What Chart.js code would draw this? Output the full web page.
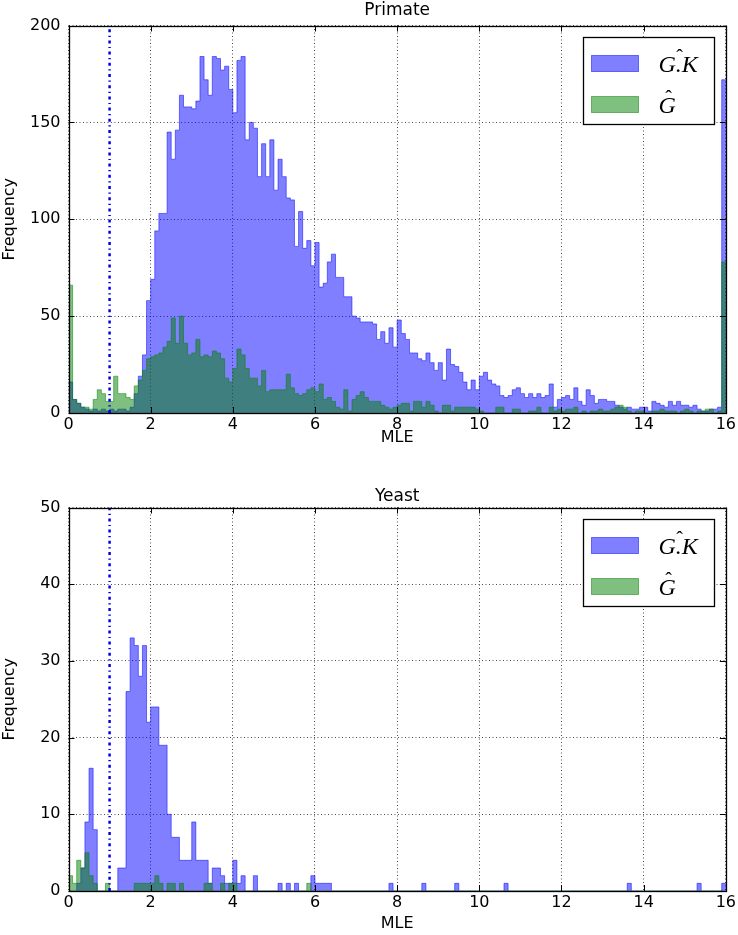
<!DOCTYPE html>
<html>
<head>
<meta charset="utf-8">
<title>MLE histograms</title>
<script src="https://cdn.jsdelivr.net/npm/chart.js@4.4.0/dist/chart.umd.min.js"></script>
<style>
  body { margin: 0; background: #fff; }
  canvas { display: block; }
</style>
</head>
<body>
<canvas id="primateChart" width="738" height="467"></canvas>
<canvas id="yeastChart" width="738" height="468"></canvas>
<script>
// histogram bins start at 0 and are 0.1 wide, 160 bins up to 16
const binWidth = 0.1;
const xTicks = [0, 2, 4, 6, 8, 10, 12, 14, 16];
const primateYTicks = [0, 50, 100, 150, 200];
const yeastYTicks = [0, 10, 20, 30, 40, 50];
const thresholdX = 1;

// Primate, G.K hat (blue)
const primateGK = [
    16, 7, 5, 3, 2, 1, 2, 1, 2, 1,
    2, 1, 2, 2, 1, 3, 10, 19, 30, 58,
    69, 94, 103, 103, 145, 131, 146, 164, 158, 158,
    157, 161, 184, 172, 164, 184, 183, 177, 179, 167,
    155, 182, 184, 141, 150, 147, 122, 139, 122, 141,
    115, 131, 122, 111, 110, 86, 104, 85, 89, 76,
    88, 65, 67, 78, 82, 70, 70, 60, 60, 50,
    49, 47, 47, 47, 46, 38, 42, 36, 44, 34,
    48, 41, 38, 31, 31, 28, 27, 31, 26, 22,
    26, 17, 33, 25, 24, 21, 16, 12, 17, 12,
    19, 21, 17, 15, 14, 9, 8, 9, 12, 13,
    10, 8, 10, 8, 10, 8, 9, 15, 3, 7,
    8, 9, 7, 13, 6, 4, 12, 9, 5, 7,
    7, 6, 6, 4, 3, 2, 3, 2, 2, 3,
    3, 1, 6, 5, 4, 3, 6, 4, 6, 4,
    4, 3, 4, 2, 1, 1, 2, 2, 3, 172
];

// Primate, G hat (green)
const primateG = [
    66, 7, 5, 3, 3, 2, 7, 12, 10, 6,
    6, 19, 10, 10, 8, 7, 14, 17, 22, 28,
    29, 30, 31, 34, 37, 49, 36, 50, 36, 30,
    31, 38, 29, 30, 29, 32, 31, 28, 18, 16,
    23, 33, 30, 23, 18, 18, 14, 22, 11, 12,
    12, 12, 12, 20, 13, 10, 9, 10, 12, 13,
    11, 15, 7, 8, 6, 3, 2, 12, 1, 7,
    9, 11, 8, 6, 6, 6, 4, 3, 2, 3,
    4, 5, 5, 1, 6, 6, 3, 6, 4, 1,
    0, 4, 4, 1, 3, 3, 3, 3, 3, 2,
    1, 0, 0, 0, 3, 3, 0, 0, 2, 2,
    0, 0, 1, 1, 3, 0, 0, 3, 1, 2,
    1, 2, 2, 3, 0, 1, 0, 1, 1, 2,
    1, 1, 2, 3, 4, 3, 1, 0, 1, 1,
    0, 0, 1, 1, 2, 1, 1, 1, 0, 1,
    2, 1, 0, 1, 1, 2, 2, 0, 1, 78
];

// Yeast, G.K hat (blue)
const yeastGK = [
    0, 0, 1, 3, 9, 16, 8, 0, 0, 0,
    0, 0, 3, 3, 26, 33, 32, 28, 32, 22,
    24, 24, 19, 19, 10, 7, 7, 4, 4, 4,
    9, 4, 4, 4, 1, 3, 3, 2, 1, 1,
    4, 1, 2, 0, 0, 2, 0, 0, 0, 0,
    0, 1, 0, 1, 0, 1, 0, 0, 0, 2,
    1, 1, 1, 1, 0, 0, 0, 0, 0, 0,
    0, 0, 0, 0, 0, 0, 0, 0, 1, 0,
    0, 0, 0, 0, 0, 0, 1, 0, 0, 0,
    0, 0, 0, 0, 1, 0, 0, 0, 0, 0,
    0, 0, 0, 0, 0, 0, 1, 0, 0, 0,
    0, 0, 0, 0, 0, 0, 0, 0, 0, 0,
    0, 0, 0, 0, 0, 0, 0, 0, 0, 0,
    0, 0, 0, 0, 0, 0, 1, 0, 0, 0,
    0, 0, 0, 0, 0, 0, 0, 0, 0, 0,
    0, 0, 0, 1, 0, 0, 0, 0, 0, 1
];

// Yeast, G hat (green)
const yeastG = [
    2, 1, 4, 3, 5, 2, 1, 0, 0, 1,
    0, 0, 0, 0, 0, 0, 1, 1, 1, 1,
    1, 2, 1, 0, 1, 1, 0, 1, 0, 0,
    0, 0, 0, 1, 1, 0, 0, 1, 0, 1,
    1, 0, 0, 0, 0, 0, 0, 0, 0, 0,
    0, 0, 0, 0, 0, 0, 0, 0, 1, 0,
    0, 0, 0, 0, 0, 0, 0, 0, 0, 0,
    0, 0, 0, 0, 0, 0, 0, 0, 0, 0,
    0, 0, 0, 0, 0, 0, 0, 0, 0, 0,
    0, 0, 0, 0, 0, 0, 0, 0, 0, 0,
    0, 0, 0, 0, 0, 0, 0, 0, 0, 0,
    0, 0, 0, 0, 0, 0, 0, 0, 0, 0,
    0, 0, 0, 0, 0, 0, 0, 0, 0, 0,
    0, 0, 0, 0, 0, 0, 0, 0, 0, 0,
    0, 0, 0, 0, 0, 0, 0, 0, 0, 0,
    0, 0, 0, 0, 0, 0, 0, 0, 0, 0
];

const blueFill = 'rgba(0, 0, 255, 0.5)';
const greenFill = 'rgba(0, 128, 0, 0.5)';
const tickFont = { family: 'DejaVu Sans', size: 16 };
const labelFont = { family: 'DejaVu Sans', size: 16 };

// left edge of every bin, plus a closing point at the last edge
function histPoints(counts) {
    const pts = counts.map((c, i) => ({ x: Math.round(i * binWidth * 10) / 10, y: c }));
    pts.push({ x: Math.round(counts.length * binWidth * 10) / 10, y: 0 });
    return pts;
}

// title centred over the axes, not over the canvas
const axesTitle = {
    id: 'axesTitle',
    afterDraw(chart, args, opts) {
        const { ctx, chartArea: a } = chart;
        ctx.save();
        ctx.fillStyle = '#000';
        ctx.font = '17px "DejaVu Sans"';
        ctx.textAlign = 'center';
        ctx.textBaseline = 'middle';
        ctx.fillText(opts.text, (a.left + a.right) / 2, opts.y);
        ctx.restore();
    }
};

// black frame and inward tick marks, like matplotlib classic
const axesFrame = {
    id: 'axesFrame',
    afterDraw(chart) {
        const { ctx, chartArea: a, scales } = chart;
        ctx.save();
        ctx.strokeStyle = '#000';
        ctx.lineWidth = 1;
        ctx.beginPath();
        scales.x.ticks.forEach(t => {
            const px = Math.round(scales.x.getPixelForValue(t.value)) + 0.5;
            ctx.moveTo(px, a.bottom); ctx.lineTo(px, a.bottom - 6);
            ctx.moveTo(px, a.top); ctx.lineTo(px, a.top + 6);
        });
        scales.y.ticks.forEach(t => {
            const py = Math.round(scales.y.getPixelForValue(t.value)) + 0.5;
            ctx.moveTo(a.left, py); ctx.lineTo(a.left + 6, py);
            ctx.moveTo(a.right, py); ctx.lineTo(a.right - 6, py);
        });
        ctx.stroke();
        ctx.lineWidth = 1.3;
        ctx.strokeRect(Math.round(a.left) + 0.5, Math.round(a.top) + 0.5,
            Math.round(a.right) - Math.round(a.left), Math.round(a.bottom) - Math.round(a.top));
        ctx.restore();
    }
};

// legend box in the upper right corner with hatted labels
const boxLegend = {
    id: 'boxLegend',
    afterDraw(chart) {
        const { ctx, chartArea: a } = chart;
        const w = 131, h = 87;
        const left = Math.round(a.right - 12 - w) + 0.5;
        const top = Math.round(a.top + 11) + 0.5;
        ctx.save();
        ctx.fillStyle = '#fff';
        ctx.fillRect(left, top, w, h);
        ctx.strokeStyle = '#000';
        ctx.lineWidth = 1.3;
        ctx.strokeRect(left, top, w, h);
        ctx.lineWidth = 1;
        chart.data.datasets.filter(d => d.legendText).forEach((d, i) => {
            const y = top + 18 + i * 41;
            ctx.fillStyle = d.backgroundColor;
            ctx.fillRect(left + 8, y, 47, 16);
            ctx.strokeStyle = d.borderColor;
            ctx.strokeRect(left + 8, y, 47, 16);

            ctx.fillStyle = '#000';
            ctx.textAlign = 'left';
            ctx.textBaseline = 'alphabetic';
            ctx.font = 'italic 24px "Liberation Serif"';
            ctx.fillText(d.legendText, left + 75, y + 16);
            const tw = ctx.measureText(d.legendText).width;
            ctx.font = '20px "Liberation Serif"';
            ctx.textAlign = 'center';
            ctx.fillText('\u02C6', left + 75 + tw / 2 + 1.5, y + 8);
        });
        ctx.restore();
    }
};

function makeChart(canvasId, cfg) {
    const ctx = document.getElementById(canvasId).getContext('2d');
    return new Chart(ctx, {
        type: 'line',
        data: {
            datasets: [
                {
                    label: 'G.K hat', legendText: 'G.K',
                    data: histPoints(cfg.gk),
                    stepped: 'before', fill: 'origin',
                    backgroundColor: blueFill, borderColor: blueFill,
                    borderWidth: 1, pointRadius: 0, order: 3
                },
                {
                    label: 'G hat', legendText: 'G',
                    data: histPoints(cfg.g),
                    stepped: 'before', fill: 'origin',
                    backgroundColor: greenFill, borderColor: greenFill,
                    borderWidth: 1, pointRadius: 0, order: 2
                },
                {
                    label: 'threshold',
                    data: [{ x: thresholdX, y: 0 }, { x: thresholdX, y: cfg.yTicks[cfg.yTicks.length - 1] }],
                    borderColor: 'rgb(0, 0, 235)', borderWidth: 2.5,
                    borderDash: [3, 3.5, 1.2, 3.5], pointRadius: 0, fill: false, order: 1
                }
            ]
        },
        options: {
            responsive: false,
            animation: false,
            layout: { padding: { top: cfg.top, right: 11 } },
            plugins: {
                legend: { display: false },
                tooltip: { enabled: false },
                axesTitle: { text: cfg.title, y: cfg.titleY }
            },
            scales: {
                x: {
                    type: 'linear', min: 0, max: 16, z: 1,
                    afterBuildTicks: s => { s.ticks = xTicks.map(v => ({ value: v })); },
                    afterFit: s => { s.height = cfg.xHeight; },
                    grid: { color: 'rgba(0,0,0,0.7)', lineWidth: 1, drawTicks: false },
                    border: { display: false, dash: [1, 2.5] },
                    ticks: { color: '#000', font: tickFont, padding: 2, maxRotation: 0 },
                    title: { display: true, text: 'MLE', color: '#000', font: labelFont,
                        padding: { top: 0, bottom: cfg.mlePad } }
                },
                y: {
                    type: 'linear', min: 0, max: cfg.yTicks[cfg.yTicks.length - 1], z: 1,
                    afterBuildTicks: s => { s.ticks = cfg.yTicks.map(v => ({ value: v })); },
                    afterFit: s => { s.width = 68.5; },
                    grid: { color: 'rgba(0,0,0,0.7)', lineWidth: 1, drawTicks: false },
                    border: { display: false, dash: [1, 2.5] },
                    ticks: { color: '#000', font: tickFont, padding: 8 },
                    title: { display: true, text: 'Frequency', color: '#000', font: labelFont,
                        padding: { top: 0.5, bottom: 0 } }
                }
            }
        },
        plugins: [axesFrame, boxLegend, axesTitle]
    });
}

makeChart('primateChart', {
    title: 'Primate', gk: primateGK, g: primateG, yTicks: primateYTicks,
    top: 25.5, titleY: 11, xHeight: 54, mlePad: 19.4
});
makeChart('yeastChart', {
    title: 'Yeast', gk: yeastGK, g: yeastG, yTicks: yeastYTicks,
    top: 40.5, titleY: 30, xHeight: 44, mlePad: 1.4
});
</script>
</body>
</html>
